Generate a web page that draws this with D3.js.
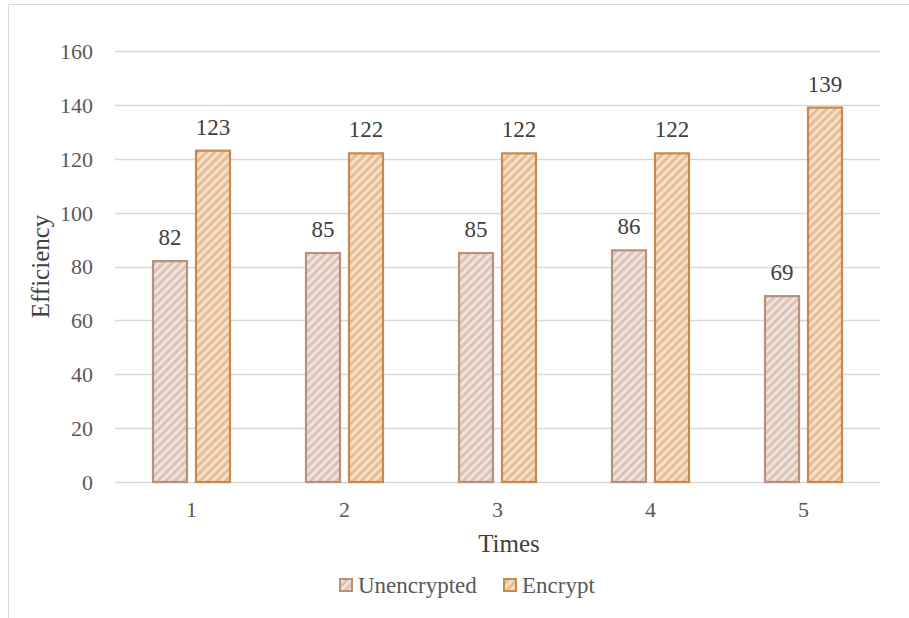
<!DOCTYPE html>
<html>
<head>
<meta charset="utf-8">
<script src="https://cdn.jsdelivr.net/npm/d3@7/dist/d3.min.js"></script>
<style>
  html, body { margin: 0; padding: 0; background: #fff; }
  svg { display: block; }
  svg text { font-family: 'Liberation Serif', 'Times New Roman', serif; }
</style>
</head>
<body>
<svg id="chart" width="909" height="618"></svg>
<script>
// Chart data
const categories = ["1", "2", "3", "4", "5"];
const seriesNames = ["Unencrypted", "Encrypt"];
const unencrypted = [82, 85, 85, 86, 69];
const encrypt = [123, 122, 122, 122, 139];
const yTicks = [0, 20, 40, 60, 80, 100, 120, 140, 160];

const series = [
  { name: seriesNames[0], values: unencrypted, stroke: "#b8917a", light: "#eee3dd", dark: "#dbc4b6", pid: "pat-unenc" },
  { name: seriesNames[1], values: encrypt, stroke: "#c8894e", light: "#f6e0cc", dark: "#e8bd96", pid: "pat-enc" }
];

const svg = d3.select("#chart");
const font = "'Liberation Serif', 'Times New Roman', serif";

// Outer frame
svg.append("rect")
  .attr("x", 8.5).attr("y", 4.5)
  .attr("width", 920).attr("height", 630)
  .attr("fill", "none").attr("stroke", "#d9d9d9").attr("stroke-width", 1);

// Wide upward-diagonal hatch patterns
const defs = svg.append("defs");
series.forEach(s => {
  const p = defs.append("pattern")
    .attr("id", s.pid)
    .attr("patternUnits", "userSpaceOnUse")
    .attr("width", 6).attr("height", 6)
    .attr("patternTransform", "rotate(45)");
  p.append("rect").attr("width", 6).attr("height", 6).attr("fill", s.light);
  p.append("rect").attr("width", 3).attr("height", 6).attr("fill", s.dark);
});

const margin = { left: 115, right: 29, top: 51, bottom: 136 };
const W = 909, H = 618;
const x = d3.scaleBand().domain(categories).range([margin.left, W - margin.right]).paddingInner(0).paddingOuter(0);
const y = d3.scaleLinear().domain([0, 160]).range([H - margin.bottom, margin.top]);

// Gridlines
svg.append("g")
  .selectAll("line")
  .data(yTicks)
  .join("line")
  .attr("x1", margin.left).attr("x2", W - margin.right)
  .attr("y1", d => Math.round(y(d)) + 0.5).attr("y2", d => Math.round(y(d)) + 0.5)
  .attr("stroke", "#d9d9d9").attr("stroke-width", 1.3);

// Y axis labels
const yAxis = d3.axisLeft(y).tickValues(yTicks).tickSize(0).tickPadding(0);
const yg = svg.append("g").attr("transform", `translate(${margin.left - 22},0)`).call(yAxis);
yg.attr("font-family", null).attr("font-size", null);
yg.select(".domain").remove();
yg.selectAll("text")
  .attr("dy", "0.34em")
  .style("font-family", font).style("font-size", "22px").attr("fill", "#595959");

// X axis labels
const xAxis = d3.axisBottom(x).tickSize(0).tickPadding(0);
const xg = svg.append("g").attr("transform", `translate(0,${y(0) + 19})`).call(xAxis);
xg.attr("font-family", null).attr("font-size", null);
xg.select(".domain").remove();
xg.selectAll("text")
  .style("font-family", font).style("font-size", "22px").attr("fill", "#595959");

// Bars
const barW = 34, gap = 9;
const offsets = [-(barW + gap / 2), gap / 2];
series.forEach((s, si) => {
  const g = svg.append("g");
  g.selectAll("rect")
    .data(s.values)
    .join("rect")
    .attr("x", (d, i) => x(categories[i]) + x.bandwidth() / 2 + offsets[si])
    .attr("y", d => y(d))
    .attr("width", barW)
    .attr("height", d => y(0) - y(d))
    .attr("fill", `url(#${s.pid})`)
    .attr("stroke", s.stroke).attr("stroke-width", 2.2);
  g.selectAll("text")
    .data(s.values)
    .join("text")
    .attr("x", (d, i) => x(categories[i]) + x.bandwidth() / 2 + offsets[si] + barW / 2)
    .attr("y", d => y(d) - 16)
    .attr("text-anchor", "middle")
    .style("font-family", font).style("font-size", "23px").attr("fill", "#404040")
    .text(d => d);
});

// Axis titles
svg.append("text")
  .attr("x", 509).attr("y", 552)
  .attr("text-anchor", "middle")
  .style("font-family", font).style("font-size", "25px").attr("fill", "#404040")
  .text("Times");

svg.append("text")
  .attr("transform", `translate(49,${(y(0) + y(160)) / 2}) rotate(-90)`)
  .attr("text-anchor", "middle")
  .style("font-family", font).style("font-size", "25px").attr("fill", "#404040")
  .text("Efficiency");

// Legend
const legend = svg.append("g");
const legendItems = [{ s: series[0], x: 340 }, { s: series[1], x: 504 }];
legendItems.forEach(({ s, x: lx }) => {
  legend.append("rect")
    .attr("x", lx).attr("y", 579).attr("width", 12).attr("height", 12)
    .attr("fill", `url(#${s.pid})`).attr("stroke", s.stroke).attr("stroke-width", 2);
  legend.append("text")
    .attr("x", lx + 18).attr("y", 593)
    .style("font-family", font).style("font-size", "23px").attr("fill", "#595959")
    .text(s.name);
});
</script>
</body>
</html>
